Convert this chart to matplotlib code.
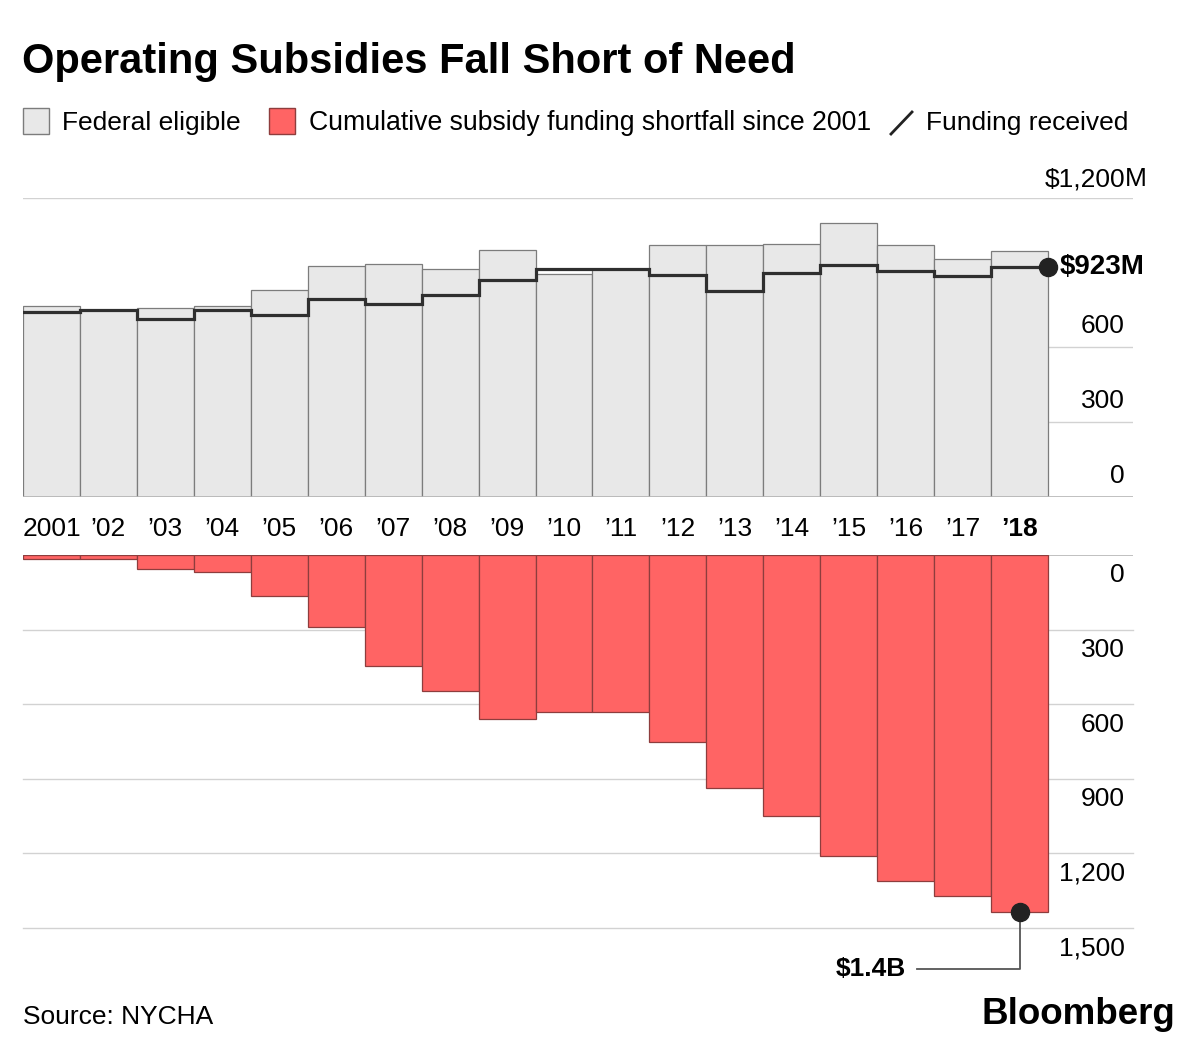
import matplotlib
matplotlib.use('Agg')
import matplotlib.pyplot as plt
import matplotlib.transforms as mtransforms
from matplotlib.patches import Rectangle
from matplotlib.lines import Line2D

plt.rcParams['font.family'] = ['Liberation Sans', 'DejaVu Sans']

# ---------------- data ----------------
years = ['2001', '\u201902', '\u201903', '\u201904', '\u201905', '\u201906', '\u201907',
         '\u201908', '\u201909', '\u201910', '\u201911', '\u201912', '\u201913',
         '\u201914', '\u201915', '\u201916', '\u201917', '\u201918']
federal_eligible = [766, 750, 760, 768, 830, 929, 936, 917, 992, 894, 914, 1014,
                    1011, 1016, 1101, 1013, 956, 989]
funding_received = [744, 750, 716, 750, 731, 796, 776, 811, 873, 916, 916, 892,
                    827, 898, 933, 909, 888, 923]
cumulative_shortfall = [17, 17, 57, 69, 164, 291, 445, 546, 658, 632, 633, 750,
                        937, 1050, 1210, 1309, 1372, 1437]
top_ticks = [0, 300, 600]
bottom_ticks = [0, 300, 600, 900, 1200, 1500]

W, H = 1200, 1046
fig = plt.figure(figsize=(W / 100, H / 100), dpi=100)
fig.patch.set_facecolor('white')

def fx(px):
    return px / W

def fy(py):
    return 1 - py / H

BAR_PX = (1048 - 23) / 18.0
AX_LEFT, AX_RIGHT = 23, 1133
n = len(years)
xs = list(range(n))
xmax = -0.5 + (AX_RIGHT - AX_LEFT) / BAR_PX

GRID = '#d2d2d2'
FS = 19

# ---------------- top chart ----------------
ax1 = fig.add_axes([fx(AX_LEFT), fy(496.7), (AX_RIGHT - AX_LEFT) / W, 298.4 / H])
ax1.set_xlim(-0.5, xmax)
ax1.set_ylim(0, 1200)
ax1.axis('off')
for v in [300, 600, 1200]:
    ax1.axhline(v, color=GRID, lw=1.0, zorder=0)
ax1.axhline(0, color='#b5b5b5', lw=1.2, zorder=4)
ax1.bar(xs, federal_eligible, width=1.0, color='#e8e8e8', edgecolor='#7c7c7c',
        linewidth=0.9, zorder=2)
edges = [i - 0.5 for i in range(n + 1)]
ax1.step(edges, funding_received + [funding_received[-1]], where='post',
         color='#2f2f2f', lw=2.3, zorder=3, solid_joinstyle='miter')
ax1.plot([n - 0.5], [funding_received[-1]], 'o', ms=13, color='#222222',
         clip_on=False, zorder=6)
ax1.annotate('$923M', (n - 0.5, funding_received[-1]), xytext=(8.5, 0),
             textcoords='offset points', fontsize=20, fontweight='bold',
             ha='left', va='center', color='black', zorder=6)

lab_x = (1125 - AX_LEFT) / (AX_RIGHT - AX_LEFT)
tr_up = mtransforms.blended_transform_factory(ax1.transAxes, ax1.transData) + \
    mtransforms.ScaledTranslation(0, 14 / 100, fig.dpi_scale_trans)
for v in top_ticks:
    ax1.text(lab_x, v, f'{v:,}', transform=tr_up, ha='right', va='baseline',
             fontsize=FS, color='black')
tr_up2 = mtransforms.blended_transform_factory(ax1.transAxes, ax1.transData) + \
    mtransforms.ScaledTranslation(0, 12 / 100, fig.dpi_scale_trans)
ax1.text(lab_x, 1200, '$1,200', transform=tr_up2, ha='right', va='baseline',
         fontsize=FS, color='black')
ax1.text(lab_x, 1200, 'M', transform=tr_up2, ha='left', va='baseline',
         fontsize=FS, color='black')

# x labels between charts
tr_x = mtransforms.blended_transform_factory(ax1.transData, fig.transFigure)
for i, lab in enumerate(years):
    ax1.text(i, fy(536.5), lab, transform=tr_x, ha='center', va='baseline',
             fontsize=FS, fontweight='bold' if i == n - 1 else 'normal',
             color='black')

# ---------------- bottom chart ----------------
ax2 = fig.add_axes([fx(AX_LEFT), fy(928), (AX_RIGHT - AX_LEFT) / W, 373 / H])
ax2.set_xlim(-0.5, xmax)
ax2.set_ylim(1500, 0)
ax2.axis('off')
for v in bottom_ticks[1:]:
    ax2.axhline(v, color=GRID, lw=1.0, zorder=0, clip_on=False)
ax2.axhline(0, color='#b5b5b5', lw=1.2, zorder=0)
ax2.bar(xs, cumulative_shortfall, width=1.0, color='#ff6464', edgecolor='#8e3d3d',
        linewidth=0.9, zorder=2)
tr_dn = mtransforms.blended_transform_factory(ax2.transAxes, ax2.transData) + \
    mtransforms.ScaledTranslation(0, -8.5 / 100, fig.dpi_scale_trans)
for v in bottom_ticks:
    ax2.text(lab_x, v, f'{v:,}', transform=tr_dn, ha='right', va='top',
             fontsize=FS, color='black')

last = n - 1
callout_y = 1663
ax2.plot([last, last, last - 103 / BAR_PX], [cumulative_shortfall[-1], callout_y, callout_y],
         color='#555555', lw=1.3, clip_on=False, zorder=5)
ax2.plot([last], [cumulative_shortfall[-1]], 'o', ms=13, color='#222222',
         clip_on=False, zorder=6)
ax2.text(last - 114 / BAR_PX, callout_y, '$1.4B', ha='right', va='center',
         fontsize=19, fontweight='bold', color='black')

# ---------------- title / legend / footer ----------------
fig.text(fx(22), fy(72.5), 'Operating Subsidies Fall Short of Need', fontsize=30,
         fontweight='bold', ha='left', va='baseline', color='black')

fig.patches.append(Rectangle((fx(23), fy(134)), 26 / W, 26 / H, transform=fig.transFigure,
                             facecolor='#e8e8e8', edgecolor='#7c7c7c', lw=1.0))
fig.text(fx(62), fy(130), 'Federal eligible', fontsize=FS, ha='left', va='baseline')
fig.patches.append(Rectangle((fx(269), fy(134)), 26 / W, 26 / H, transform=fig.transFigure,
                             facecolor='#ff6464', edgecolor='#8e3d3d', lw=1.0))
fig.text(fx(309), fy(130), 'Cumulative subsidy funding shortfall since 2001', fontsize=19.2,
         ha='left', va='baseline')
fig.lines.append(Line2D([fx(891), fx(912)], [fy(134), fy(112)], transform=fig.transFigure,
                        color='#222222', lw=2.0))
fig.text(fx(926), fy(130), 'Funding received', fontsize=FS, ha='left', va='baseline')

fig.text(fx(23), fy(1024), 'Source: NYCHA', fontsize=FS, ha='left', va='baseline')
fig.text(fx(1175), fy(1024), 'Bloomberg', fontsize=26.5, fontweight='bold', ha='right',
         va='baseline')

fig.savefig('out.png', dpi=100, facecolor='white')
